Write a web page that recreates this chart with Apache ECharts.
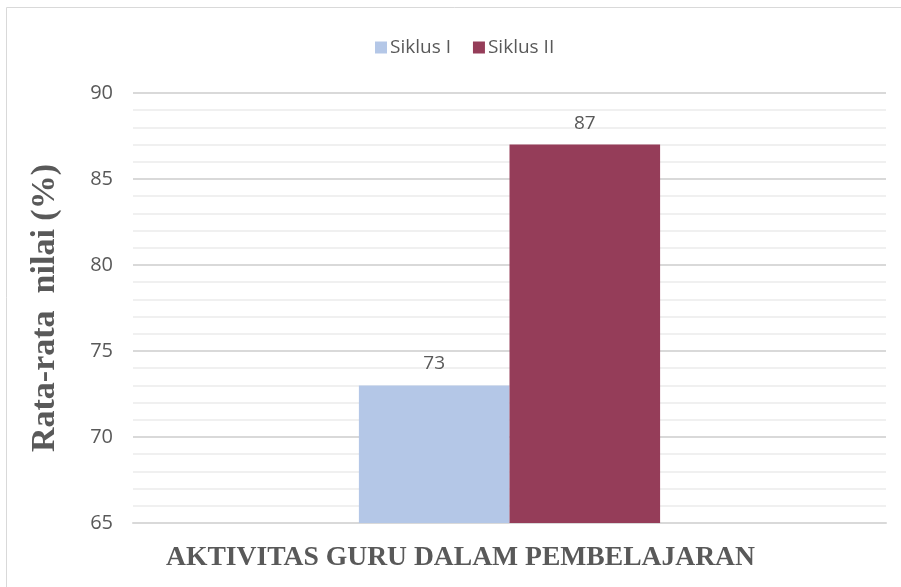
<!DOCTYPE html>
<html>
<head>
<meta charset="utf-8">
<script src="https://cdn.jsdelivr.net/npm/echarts@6/dist/echarts.min.js"></script>
<style>
  html, body { margin: 0; padding: 0; background: #fff; }
  #chart { width: 901px; height: 587px; }
</style>
</head>
<body>
<div id="chart"></div>
<script>
  // values
  var categories = ['AKTIVITAS GURU DALAM PEMBELAJARAN'];
  var seriesNames = ['Siklus I', 'Siklus II'];
  var siklus1 = [73];
  var siklus2 = [87];
  var colors = ['#b4c7e7', '#953d59'];

  var textColor = '#595959';
  var chart = echarts.init(document.getElementById('chart'));

  var option = {
    animation: false,
    color: colors,
    graphic: [{
      type: 'rect',
      shape: { x: 6.5, y: 7.5, width: 900, height: 590 },
      style: { fill: 'none', stroke: '#d9d9d9', lineWidth: 1 },
      silent: true
    }],
    legend: {
      left: 370,
      top: 33,
      itemWidth: 12,
      itemHeight: 12,
      itemGap: 22,
      icon: 'rect',
      textStyle: { color: textColor, fontFamily: 'Open Sans', fontSize: 19, padding: [0, 0, 0, -2] },
      data: seriesNames
    },
    grid: { left: 133, right: 15, top: 93, bottom: 64, containLabel: false },
    xAxis: {
      type: 'category',
      data: categories,
      axisTick: { show: false },
      axisLine: { lineStyle: { color: '#d9d9d9', width: 2 } },
      axisLabel: {
        color: textColor,
        fontFamily: 'Liberation Serif',
        fontWeight: 'bold',
        fontSize: 27.6,
        margin: 21,
        padding: [0, 98, 0, 0]
      }
    },
    yAxis: {
      type: 'value',
      min: 65,
      max: 90,
      interval: 5,
      name: 'Rata-rata  nilai (%)',
      nameLocation: 'middle',
      nameGap: 71,
      nameTextStyle: {
        color: textColor,
        fontFamily: 'Liberation Serif',
        fontWeight: 'bold',
        fontSize: 34
      },
      axisLine: { show: false },
      axisTick: { show: false },
      axisLabel: { color: textColor, fontFamily: 'Open Sans', fontSize: 20, margin: 20 },
      splitLine: { lineStyle: { color: '#d9d9d9', width: 2 } },
      minorTick: { show: false, splitNumber: 5 },
      minorSplitLine: { show: true, lineStyle: { color: '#f0f0f0', width: 2 } }
    },
    series: [{
      name: seriesNames[0],
      type: 'bar',
      data: siklus1,
      barWidth: '20%',
      barGap: '0%',
      label: { show: true, position: 'top', distance: 12, color: textColor, fontFamily: 'Open Sans', fontSize: 19 }
    }, {
      name: seriesNames[1],
      type: 'bar',
      data: siklus2,
      barWidth: '20%',
      barGap: '0%',
      label: { show: true, position: 'top', distance: 12, color: textColor, fontFamily: 'Open Sans', fontSize: 19 }
    }]
  };

  chart.setOption(option);
</script>
</body>
</html>
